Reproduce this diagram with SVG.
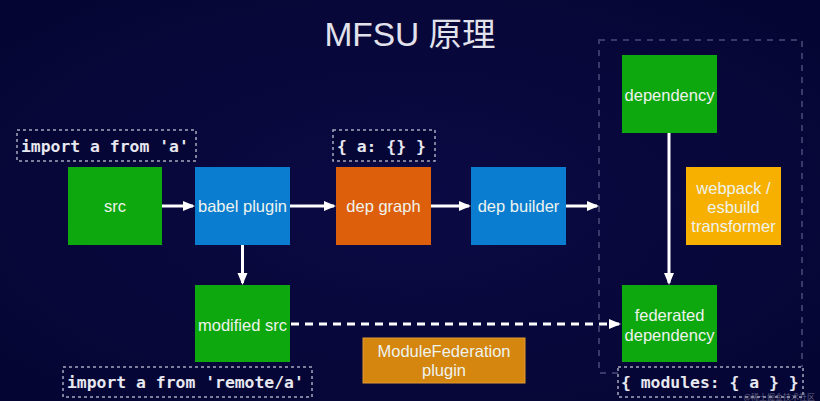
<svg xmlns="http://www.w3.org/2000/svg" width="820" height="401" viewBox="0 0 820 401">
<defs>
<radialGradient id="bg" cx="50%" cy="50%" r="70%">
<stop offset="0" stop-color="#0b0a44"/>
<stop offset="1" stop-color="#050533"/>
</radialGradient>
<marker id="ah" markerWidth="12" markerHeight="12" refX="10" refY="5" orient="auto" markerUnits="userSpaceOnUse" viewBox="0 0 12 10">
<path d="M0,0 L12,5 L0,10 z" fill="#ffffff"/>
</marker>
<style>
.lbl{font-family:"Liberation Sans",Arial,sans-serif;font-size:16.5px;fill:#eef3ee;text-anchor:middle;dominant-baseline:central}
.code{font-family:"DejaVu Sans Mono","Liberation Mono",monospace;font-weight:bold;font-size:16.4px;fill:#e8e8f0;dominant-baseline:central}
.cbox{fill:#060636;stroke:#a8a8c0;stroke-width:1.5;stroke-dasharray:3 3}
.conn{stroke:#ffffff;stroke-width:3;fill:none}
</style>
</defs>
<rect width="820" height="401" fill="url(#bg)"/>
<text x="410" y="34" font-family="'Liberation Sans','Noto Sans CJK SC',sans-serif" font-size="33.5" fill="#e2e2ec" text-anchor="middle" dominant-baseline="central">MFSU 原理</text>

<rect id="group-box" x="599" y="40" width="203" height="333" fill="none" stroke="#3a3a6a" stroke-width="2" stroke-dasharray="6 6"/>

<g id="connectors">
<line class="conn" x1="162" y1="206" x2="193" y2="206" marker-end="url(#ah)"/>
<line class="conn" x1="290" y1="206" x2="334" y2="206" marker-end="url(#ah)"/>
<line class="conn" x1="431" y1="206" x2="469" y2="206" marker-end="url(#ah)"/>
<line class="conn" x1="566" y1="206" x2="597" y2="206" marker-end="url(#ah)"/>
<line class="conn" x1="242.5" y1="245" x2="242.5" y2="283" marker-end="url(#ah)"/>
<line class="conn" x1="669" y1="133" x2="669" y2="283" marker-end="url(#ah)"/>
<line class="conn" x1="291" y1="324" x2="619" y2="324" stroke-dasharray="8 6" marker-end="url(#ah)"/>
</g>

<g id="code-import-a">
<rect class="cbox" x="17" y="130" width="179" height="31"/>
<text class="code" x="21" y="146">import a from 'a'</text>
</g>
<g id="code-graph">
<rect class="cbox" x="333" y="130" width="102" height="31"/>
<text class="code" x="337" y="146">{ a: {} }</text>
</g>
<g id="node-src">
<rect x="68" y="167" width="94" height="78" fill="#0da80d"/>
<text class="lbl" x="115" y="206">src</text>
</g>
<g id="node-babel">
<rect x="195" y="167" width="95" height="78" fill="#0a7dd0"/>
<text class="lbl" x="242.5" y="206">babel plugin</text>
</g>
<g id="node-depgraph">
<rect x="336" y="167" width="95" height="78" fill="#de5f0b"/>
<text class="lbl" x="383.5" y="206">dep graph</text>
</g>
<g id="node-depbuilder">
<rect x="471" y="167" width="95" height="78" fill="#0a7dd0"/>
<text class="lbl" x="518.5" y="206">dep builder</text>
</g>
<g id="node-dependency">
<rect x="622" y="55" width="95" height="78" fill="#0da80d"/>
<text class="lbl" x="669.5" y="95">dependency</text>
</g>
<g id="node-webpack">
<rect x="686" y="167" width="95" height="78" fill="#f7b000"/>
<text class="lbl" x="733.5" y="188">webpack /</text>
<text class="lbl" x="733.5" y="207">esbuild</text>
<text class="lbl" x="733.5" y="226">transformer</text>
</g>
<g id="node-modified">
<rect x="195" y="285" width="95" height="77" fill="#0da80d"/>
<text class="lbl" x="242.5" y="325">modified src</text>
</g>
<g id="node-federated">
<rect x="622" y="285" width="95" height="77" fill="#0da80d"/>
<text class="lbl" x="669.5" y="315">federated</text>
<text class="lbl" x="669.5" y="335">dependency</text>
</g>
<g id="node-mf-plugin">
<rect x="363" y="338" width="162" height="45" fill="#d4860e" stroke="#e29a30" stroke-width="1"/>
<text class="lbl" x="444" y="351">ModuleFederation</text>
<text class="lbl" x="444" y="370">plugin</text>
</g>
<g id="code-remote">
<rect class="cbox" x="63" y="367" width="249" height="30"/>
<text class="code" x="67" y="382">import a from 'remote/a'</text>
</g>
<g id="code-modules">
<rect class="cbox" x="618" y="367" width="185" height="30"/>
<text class="code" x="621" y="382">{ modules: { a } }</text>
</g>
<text x="815" y="400" font-family="'Noto Sans CJK SC',sans-serif" font-size="8" fill="#8888a0" text-anchor="end" opacity="0.7">@稀土掘金技术社区</text>
</svg>
